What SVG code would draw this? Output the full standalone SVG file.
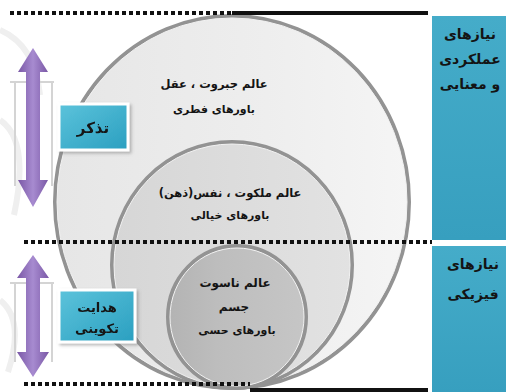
<svg xmlns="http://www.w3.org/2000/svg" width="506" height="392" viewBox="0 0 506 392">
  <style>
    .fa { font-family: "DejaVu Sans", "Noto Sans", sans-serif; font-weight: bold; fill: #141414; }
    .c { text-anchor: middle; }
    .dash { stroke: #111; stroke-width: 4; stroke-dasharray: 4 3; fill: none; }
    .solid { stroke: #111; stroke-width: 4; fill: none; }
    .ring { stroke: #939393; stroke-width: 4; }
    .ringHi { fill: none; stroke: #f2f2f2; stroke-width: 1; }
    .bracket { stroke: #d4d4d4; stroke-width: 2; fill: none; }
    .label { fill: url(#teal); stroke: #ffffff; stroke-width: 3; }
  </style>
  <defs>
    <linearGradient id="outerFill" x1="0" y1="0" x2="1" y2="0">
      <stop offset="0" stop-color="#e6e6e6"/>
      <stop offset="0.6" stop-color="#eeeeee"/>
      <stop offset="1" stop-color="#f5f5f5"/>
    </linearGradient>
    <linearGradient id="midFill" x1="0" y1="0" x2="1" y2="0">
      <stop offset="0" stop-color="#d6d6d6"/>
      <stop offset="1" stop-color="#e2e2e2"/>
    </linearGradient>
    <linearGradient id="innerFill" x1="0" y1="0" x2="1" y2="0">
      <stop offset="0" stop-color="#b3b3b3"/>
      <stop offset="0.35" stop-color="#bdbdbd"/>
      <stop offset="1" stop-color="#c6c6c6"/>
    </linearGradient>
    <linearGradient id="purple" x1="0" y1="0" x2="1" y2="0">
      <stop offset="0" stop-color="#7a58a6"/>
      <stop offset="0.5" stop-color="#a78bd0"/>
      <stop offset="1" stop-color="#7a58a6"/>
    </linearGradient>
    <linearGradient id="teal" x1="0" y1="0" x2="1" y2="1">
      <stop offset="0" stop-color="#5cc3db"/>
      <stop offset="1" stop-color="#2a9fc0"/>
    </linearGradient>
    <linearGradient id="panel" x1="0" y1="0" x2="0" y2="1">
      <stop offset="0" stop-color="#45acc9"/>
      <stop offset="1" stop-color="#379fbf"/>
    </linearGradient>
    <filter id="shadow" x="-20%" y="-20%" width="140%" height="140%">
      <feDropShadow dx="2" dy="2" stdDeviation="1.5" flood-color="#777" flood-opacity="0.5"/>
    </filter>
  </defs>

  <rect width="506" height="392" fill="#ffffff"/>

  <!-- faint ornament on the left margin -->
  <g fill="none" stroke="#efefef" stroke-width="6">
    <path d="M0 30 Q35 45 40 95"/>
    <path d="M0 120 Q30 140 14 215"/>
    <path d="M0 300 Q25 320 8 372"/>
  </g>

  <!-- right side panels -->
  <g id="panel-top">
    <rect x="432" y="16" width="74" height="224" fill="url(#panel)"/>
    <text class="fa c" x="470" y="39" font-size="14" direction="rtl">نیازهای</text>
    <text class="fa c" x="470" y="64" font-size="14" direction="rtl">عملکردی</text>
    <text class="fa c" x="470" y="89" font-size="14" direction="rtl">و معنایی</text>
  </g>
  <g id="panel-bottom">
    <rect x="432" y="246" width="74" height="146" fill="url(#panel)"/>
    <text class="fa c" x="473" y="269" font-size="14" direction="rtl">نیازهای</text>
    <text class="fa c" x="473" y="299" font-size="14" direction="rtl">فیزیکی</text>
  </g>

  <!-- nested worlds -->
  <g id="world-jabarut">
    <ellipse cx="232" cy="202" rx="177" ry="186" fill="url(#outerFill)" class="ring"/>
    <ellipse cx="232" cy="202" rx="175" ry="184" class="ringHi"/>
    <text class="fa c" x="214" y="88" font-size="11.5" direction="rtl">عالم جبروت ، عقل</text>
    <text class="fa c" x="214" y="113" font-size="11" direction="rtl">باورهای فطری</text>
  </g>
  <g id="world-malakut">
    <ellipse cx="232" cy="265" rx="120" ry="123" fill="url(#midFill)" class="ring"/>
    <ellipse cx="232" cy="265" rx="118" ry="121" class="ringHi"/>
    <text class="fa c" x="230" y="197" font-size="11.5" direction="rtl">عالم ملکوت ، نفس(ذهن)</text>
    <text class="fa c" x="230" y="219" font-size="11" direction="rtl">باورهای خیالی</text>
  </g>
  <g id="world-nasut">
    <ellipse cx="237" cy="317" rx="69" ry="71" fill="url(#innerFill)" class="ring"/>
    <ellipse cx="237" cy="317" rx="67" ry="69" class="ringHi"/>
    <text class="fa c" x="235" y="287" font-size="12" direction="rtl">عالم ناسوت</text>
    <text class="fa c" x="234" y="311" font-size="12" direction="rtl">جسم</text>
    <text class="fa c" x="237" y="334" font-size="11" direction="rtl">باورهای حسی</text>
  </g>

  <!-- separator lines -->
  <g id="separators">
    <line class="dash" x1="10" y1="13" x2="232" y2="13"/>
    <line class="solid" x1="232" y1="13" x2="428" y2="13"/>
    <line class="dash" x1="24" y1="242" x2="432" y2="242"/>
    <line class="dash" x1="24" y1="384" x2="250" y2="384"/>
    <line class="solid" x1="250" y1="390" x2="428" y2="390"/>
  </g>

  <!-- connectors: double-headed arrows -->
  <g id="connectors">
    <path class="bracket" d="M10 82 H54 M52 82 V186 M15 82 V186"/>
    <path d="M33 48 L48 72 L40 72 L40 180 L48 180 L33 207 L18 180 L26 180 L26 72 L18 72 Z" fill="url(#purple)"/>
    <path class="bracket" d="M10 283 H54 M52 283 V362 M15 283 V362"/>
    <path d="M33 255 L49 278 L40 278 L40 352 L49 352 L33 377 L17 352 L26 352 L26 278 L17 278 Z" fill="url(#purple)"/>
  </g>

  <!-- labels on the arrows -->
  <g id="label-tazakkor" filter="url(#shadow)">
    <rect class="label" x="59" y="104" width="69" height="46"/>
    <text class="fa c" x="93" y="133" font-size="15" direction="rtl">تذکر</text>
  </g>
  <g id="label-hedayat" filter="url(#shadow)">
    <rect class="label" x="59" y="290" width="76" height="52"/>
    <text class="fa c" x="97" y="312" font-size="13" direction="rtl">هدایت</text>
    <text class="fa c" x="97" y="333" font-size="13" direction="rtl">تکوینی</text>
  </g>
</svg>
